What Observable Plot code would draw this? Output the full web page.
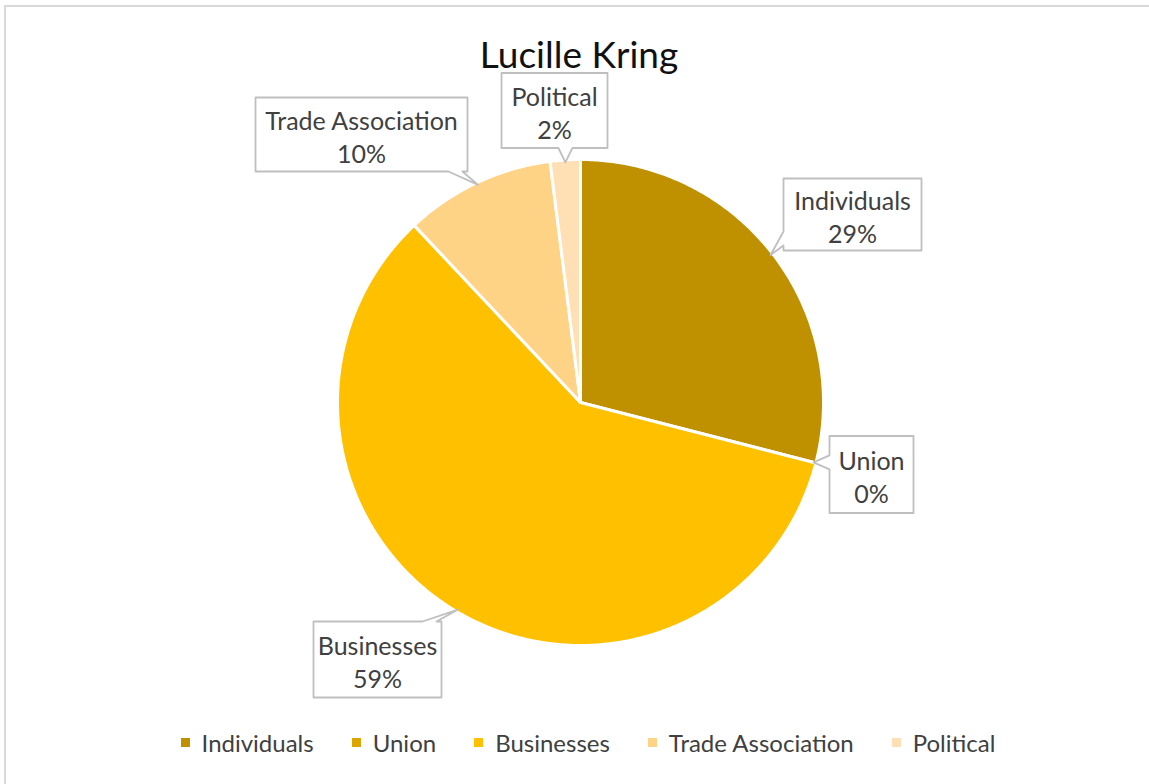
<!DOCTYPE html>
<html>
<head>
<meta charset="utf-8">
<script src="https://cdn.jsdelivr.net/npm/d3@7"></script>
<script src="https://cdn.jsdelivr.net/npm/@observablehq/plot@0.6"></script>
<style>
  html, body { margin: 0; padding: 0; background: #fff; overflow: hidden; }
  #chart { position: relative; width: 1149px; height: 784px; font-family: Lato, "Open Sans", sans-serif; }
  #frame { position: absolute; left: 4px; top: 5px; width: 1200px; height: 900px; border: 2px solid #d9d9d9; box-sizing: border-box; }
  #plot { position: absolute; left: 0; top: 0; }
  #title { position: absolute; left: 0; top: 34px; width: 1158px; text-align: center; font-size: 37px; line-height: 40px; color: #111; }
  #legend { position: absolute; left: 0; top: 729px; width: 1176px; height: 26px; display: flex; justify-content: center; align-items: center; font-size: 24px; color: #404040; }
  .item { display: flex; align-items: center; margin: 0 19px; white-space: nowrap; }
  .sw { display: inline-block; width: 9px; height: 9px; margin-right: 12px; }
</style>
</head>
<body>
<div id="chart">
  <div id="frame"></div>
  <div id="plot"></div>
  <div id="title"></div>
  <div id="legend"></div>
</div>
<script>
// ---- data ----
const chartTitle = "Lucille Kring";
const categories = ["Individuals", "Union", "Businesses", "Trade Association", "Political"];
const shares = [29, 0, 59, 10, 2];            // percent of total
const percentLabels = ["29%", "0%", "59%", "10%", "2%"];

// ---- style / layout ----
const palette = ["#BF9000", "#DBA600", "#FFC000", "#FFD386", "#FFE0B4"];
const W = 1149, H = 784, CX = 580, CY = 402, R = 243;
// callout boxes: centre offset from pie centre (px), box size (px), edge carrying the pointer
const calloutLayout = {
  "Individuals":       {cx: 272,  cy: -188, w: 138, h: 72, side: "left"},
  "Union":             {cx: 291,  cy: 72,   w: 84,  h: 77, side: "left"},
  "Businesses":        {cx: -203, cy: 257,  w: 128, h: 76, side: "top"},
  "Trade Association": {cx: -219, cy: -268, w: 212, h: 74, side: "bottom"},
  "Political":         {cx: -26,  cy: -292, w: 106, h: 75, side: "bottom"}
};

const rows = categories.map((name, i) => ({name, value: shares[i], label: percentLabels[i]}));
const arcs = d3.pie().sort(null).value(d => d.value)(rows);

// slice polygons in unit (radius) coordinates, y up
const slicePts = [];
for (const a of arcs) {
  if (a.endAngle - a.startAngle <= 0) continue;
  const name = a.data.name;
  slicePts.push({name, x: 0, y: 0});
  const n = Math.max(2, Math.ceil((a.endAngle - a.startAngle) / 0.01));
  for (let k = 0; k <= n; k++) {
    const t = a.startAngle + (a.endAngle - a.startAngle) * k / n;
    slicePts.push({name, x: Math.sin(t), y: Math.cos(t)});
  }
}

// callout polygons (pixel offsets -> unit coords)
const calloutPts = [];
const labelRows = [];
const toU = (dx, dy) => ({x: dx / R, y: -dy / R});
for (const a of arcs) {
  const name = a.data.name;
  const L = calloutLayout[name];
  const mid = (a.startAngle + a.endAngle) / 2;
  const tip = [Math.sin(mid) * R * 0.99, -Math.cos(mid) * R * 0.99];
  const x0 = L.cx - L.w / 2, x1 = L.cx + L.w / 2, y0 = L.cy - L.h / 2, y1 = L.cy + L.h / 2;
  const clamp = (v, lo, hi) => Math.max(lo + 12, Math.min(hi - 12, v));
  const hw = 7;
  const pts = [];
  pts.push([x0, y0]);
  if (L.side === "top") { const b = clamp(tip[0], x0, x1); pts.push([b - hw, y0], tip, [b + hw, y0]); }
  pts.push([x1, y0]);
  if (L.side === "right") { const b = clamp(tip[1], y0, y1); pts.push([x1, b - hw], tip, [x1, b + hw]); }
  pts.push([x1, y1]);
  if (L.side === "bottom") { const b = clamp(tip[0], x0, x1); pts.push([b + hw, y1], tip, [b - hw, y1]); }
  pts.push([x0, y1]);
  if (L.side === "left") { const b = clamp(tip[1], y0, y1); pts.push([x0, b + hw], tip, [x0, b - hw]); }
  for (const p of pts) calloutPts.push({name, ...toU(p[0], p[1])});
  labelRows.push({name, text: name + "\n" + a.data.label, ...toU(L.cx, L.cy + 1)});
}

const chart = Plot.plot({
  width: W,
  height: H,
  margin: 0,
  x: {domain: [-CX / R, (W - CX) / R], axis: null},
  y: {domain: [-(H - CY) / R, CY / R], axis: null},
  color: {domain: categories, range: palette},
  style: {background: "transparent", fontFamily: "Lato, 'Open Sans', sans-serif", overflow: "visible"},
  marks: [
    Plot.line(slicePts, {x: "x", y: "y", z: "name", fill: "name", stroke: "#ffffff", strokeWidth: 3, strokeLinejoin: "round", curve: "linear-closed"}),
    Plot.line(calloutPts, {x: "x", y: "y", z: "name", fill: "#ffffff", stroke: "#bfbfbf", strokeWidth: 1.8, curve: "linear-closed"}),
    Plot.text(labelRows, {x: "x", y: "y", text: "text", fontSize: 25, lineHeight: 1.32, fill: "#404040"})
  ]
});
document.getElementById("plot").appendChild(chart);

document.getElementById("title").textContent = chartTitle;
const legend = document.getElementById("legend");
categories.forEach((c, i) => {
  const it = document.createElement("div");
  it.className = "item";
  const sw = document.createElement("span");
  sw.className = "sw";
  sw.style.background = palette[i];
  const tx = document.createElement("span");
  tx.textContent = c;
  it.appendChild(sw); it.appendChild(tx);
  legend.appendChild(it);
});
</script>
</body>
</html>
